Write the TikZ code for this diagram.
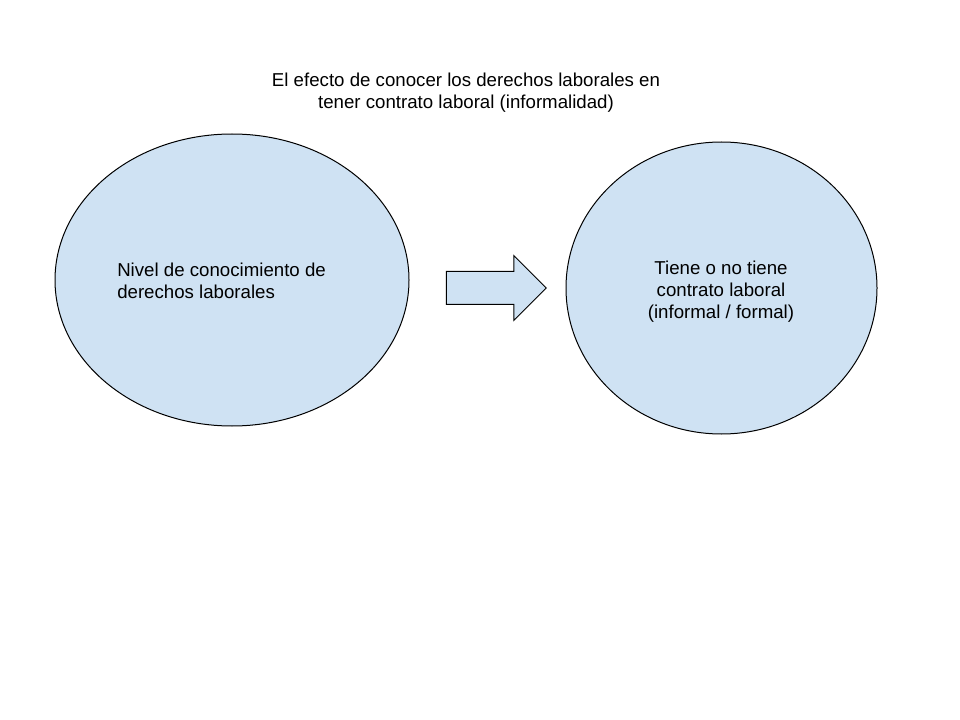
\documentclass[tikz,border=0pt]{standalone}
\usepackage{fontspec}
\setmainfont{Liberation Sans}
\usetikzlibrary{shapes.geometric,shapes.arrows}

\begin{document}
\begin{tikzpicture}[
        x=0.75pt,
        y=-0.75pt,
        bubble/.style={
            ellipse,
            draw,
            line width=0.75pt,
            fill=bluefill,
            inner sep=0pt,
            minimum height=219pt
        },
        label/.style={
            font=\fontsize{14}{16.5}\selectfont,
            inner sep=0pt
        },
        bigarrow/.style={
            single arrow,
            draw,
            line width=0.75pt,
            fill=bluefill,
            inner xsep=0pt,
            inner ysep=12pt,
            minimum height=75pt,
            single arrow head extend=12pt,
            single arrow tip angle=90
        }
    ]
        \definecolor{bluefill}{HTML}{CFE2F3}

        \useasboundingbox (0,0) rectangle (960,720);

        \node[label, align=center] (title) at (466,93) {El efecto de conocer los derechos laborales en\\tener contrato laboral (informalidad)};

        \node[bubble, minimum width=265.5pt] (knowledge) at (232,280) {};
        \node[bubble, minimum width=233.25pt] (contract) at (721.5,288) {};

        \node[label, align=left, anchor=west] (knowtext) at (117,281) {Nivel de conocimiento de\\derechos laborales};
        \node[label, align=center] (contracttext) at (721,292) {Tiene o no tiene\\contrato laboral\\(informal / formal)};

        \node[bigarrow] (effect) at (488,288) {};

    \end{tikzpicture}
\end{document}
